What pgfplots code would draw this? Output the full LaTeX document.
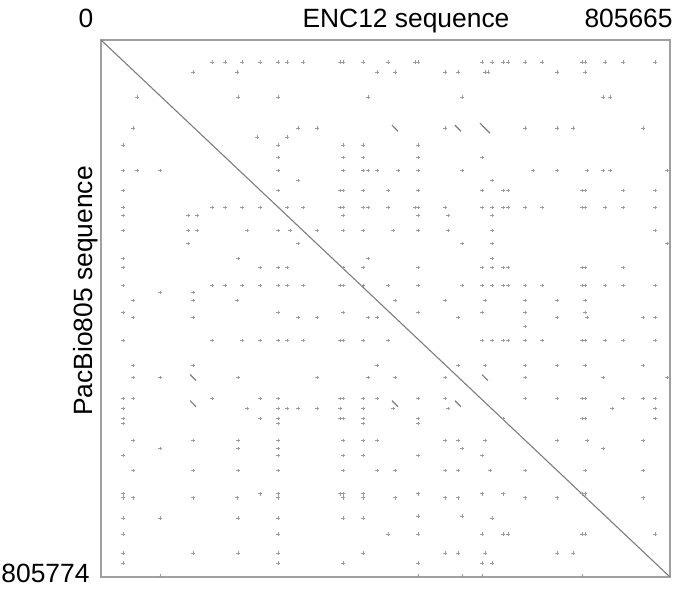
\documentclass[border=0pt]{standalone}
\usepackage{pgfplots}
\pgfplotsset{compat=1.18}
\usepackage{fontspec}
\setmainfont{Liberation Sans}
\definecolor{framegray}{RGB}{160,160,160}
\definecolor{diaggray}{RGB}{125,125,125}
\definecolor{dotgray}{RGB}{155,155,155}
\begin{document}
\begin{tikzpicture}
\path[use as bounding box] (-50.5pt,-7.5pt) rectangle (287pt,288.5pt);
\begin{axis}[
  at={(0,0)}, anchor=south west,
  scale only axis, width=284.5pt, height=268.5pt,
  xmin=0, xmax=805665, ymin=0, ymax=805774, y dir=reverse,
  axis line style={draw=framegray, line width=0.75pt},
  xtick=\empty, ytick=\empty,
]
% repeat hits
\addplot[only marks, mark=+, mark size=0.85pt, color=dotgray, mark options={line width=0.35pt}] coordinates {
(157200,33100) (175600,33100) (199600,33100) (225100,33100) (250600,33100) (263400,33100) (286000,33100) (338400,33100) (342600,33100) (371000,33100) (406400,33100) (444600,33100) (448800,33100) (539500,33100) (553600,33100) (569200,33100) (576300,33100) (600300,33100) (624400,33100) (681000,33100) (685300,33100) (713600,33100) (739100,33100) (784400,33100)
(130300,48100) (192600,48100) (390800,48100) (416300,48100) (487100,48100) (505500,48100) (543700,48100) (548000,48100) (645700,48100) (685300,48100)
(51000,85700) (194000,85700) (250600,85700) (378000,85700) (511100,85700) (710800,85700) (720700,85700)
(45300,132300) (278900,132300) (305800,132300) (487100,132300) (600300,132300) (645700,132300) (668300,132300) (767400,132300)
(220900,145800) (263400,145800)
(31200,157800) (250600,157800) (342600,157800) (371000,157800) (448800,157800)
(250600,175900) (342600,175900) (371000,175900) (448800,175900) (539500,175900)
(31200,195400) (51000,195400) (83500,195400) (250600,195400) (342600,195400) (371000,195400) (378000,195400) (390800,195400) (420500,195400) (448800,195400) (511100,195400) (611700,195400) (645700,195400) (688100,195400) (710800,195400) (720700,195400) (801400,195400)
(278900,210500) (553600,210500)
(31200,225500) (250600,225500) (338400,225500) (342600,225500) (371000,225500) (406400,225500) (448800,225500) (539500,225500) (569200,225500) (576300,225500) (681000,225500) (685300,225500) (739100,225500) (784400,225500)
(31200,251100) (157200,251100) (175600,251100) (199600,251100) (225100,251100) (263400,251100) (286000,251100) (338400,251100) (342600,251100) (371000,251100) (378000,251100) (406400,251100) (444600,251100) (448800,251100) (487100,251100) (539500,251100) (553600,251100) (569200,251100) (576300,251100) (600300,251100) (624400,251100) (681000,251100) (685300,251100) (713600,251100) (739100,251100) (784400,251100)
(31200,263100) (123200,263100) (135900,263100) (342600,263100) (448800,263100) (491300,263100) (553600,263100)
(31200,285600) (123200,285600) (135900,285600) (206700,285600) (250600,285600) (267600,285600) (305800,285600) (342600,285600) (371000,285600) (413400,285600) (448800,285600) (491300,285600) (553600,285600) (784400,285600)
(123200,305200) (278900,305200) (511100,305200) (553600,305200) (801400,305200)
(31200,327700) (194000,327700) (378000,327700) (553600,327700)
(31200,341200) (225100,341200) (250600,341200) (263400,341200) (342600,341200) (371000,341200) (448800,341200) (539500,341200) (553600,341200) (569200,341200) (576300,341200) (681000,341200) (685300,341200) (739100,341200)
(31200,368300) (157200,368300) (175600,368300) (199600,368300) (225100,368300) (250600,368300) (263400,368300) (286000,368300) (338400,368300) (342600,368300) (371000,368300) (406400,368300) (448800,368300) (511100,368300) (539500,368300) (553600,368300) (569200,368300) (576300,368300) (600300,368300) (624400,368300) (681000,368300) (685300,368300) (713600,368300) (739100,368300) (784400,368300)
(83500,378800) (130300,378800)
(45300,390900) (130300,390900) (192600,390900) (416300,390900) (487100,390900) (543700,390900) (600300,390900) (645700,390900) (685300,390900)
(31200,408900) (250600,408900) (342600,408900) (448800,408900) (539500,408900) (600300,408900) (685300,408900)
(45300,416400) (130300,416400) (278900,416400) (305800,416400) (378000,416400) (390800,416400) (505500,416400) (645700,416400) (688100,416400) (767400,416400) (784400,416400)
(600300,429900)
(31200,451000) (157200,451000) (199600,451000) (225100,451000) (250600,451000) (263400,451000) (286000,451000) (338400,451000) (342600,451000) (371000,451000) (406400,451000) (539500,451000) (553600,451000) (569200,451000) (576300,451000) (600300,451000) (624400,451000) (681000,451000) (685300,451000) (713600,451000) (739100,451000) (784400,451000)
(45300,488600) (130300,488600) (390800,488600) (505500,488600) (543700,488600) (600300,488600) (645700,488600) (685300,488600) (767400,488600)
(45300,506600) (83500,506600) (194000,506600) (305800,506600) (378000,506600) (416300,506600) (487100,506600) (600300,506600) (710800,506600) (801400,506600)
(31200,538200) (45300,538200) (157200,538200) (225100,538200) (250600,538200) (338400,538200) (342600,538200) (371000,538200) (390800,538200) (448800,538200) (487100,538200) (600300,538200) (645700,538200) (681000,538200) (685300,538200) (739100,538200) (767400,538200) (784400,538200)
(31200,553200) (206700,553200) (250600,553200) (263400,553200) (278900,553200) (305800,553200) (338400,553200) (371000,553200) (413400,553200) (491300,553200) (723500,553200) (784400,553200)
(31200,568200) (225100,568200) (250600,568200) (338400,568200) (342600,568200) (371000,568200) (448800,568200) (569200,568200) (681000,568200) (685300,568200) (784400,568200)
(31200,575800) (250600,575800) (371000,575800) (448800,575800)
(45300,601300) (130300,601300) (194000,601300) (250600,601300) (342600,601300) (371000,601300) (390800,601300) (487100,601300) (505500,601300) (543700,601300) (645700,601300) (688100,601300) (767400,601300)
(83500,613300) (194000,613300) (250600,613300) (511100,613300) (710800,613300)
(31200,623900) (250600,623900) (342600,623900) (371000,623900) (448800,623900) (539500,623900)
(45300,646400) (130300,646400) (194000,646400) (250600,646400) (342600,646400) (390800,646400) (416300,646400) (487100,646400) (505500,646400) (550800,646400) (600300,646400) (685300,646400) (767400,646400)
(31200,681000) (225100,681000) (250600,681000) (338400,681000) (342600,681000) (371000,681000) (448800,681000) (539500,681000) (569200,681000) (681000,681000) (685300,681000)
(31200,687000) (45300,687000) (130300,687000) (192600,687000) (250600,687000) (342600,687000) (371000,687000) (416300,687000) (487100,687000) (505500,687000) (600300,687000) (645700,687000) (767400,687000)
(448800,714100) (511100,714100)
(31200,717100) (83500,717100) (194000,717100) (250600,717100) (342600,717100) (371000,717100) (553600,717100)
(31200,741100) (250600,741100) (406400,741100) (448800,741100) (539500,741100) (569200,741100) (576300,741100) (681000,741100) (685300,741100) (784400,741100)
(31200,769700) (130300,769700) (194000,769700) (250600,769700) (371000,769700) (487100,769700) (505500,769700) (543700,769700) (645700,769700) (668300,769700)
(31200,784700) (250600,784700) (342600,784700) (448800,784700) (539500,784700) (553600,784700)
(83500,804300) (448800,804300) (511100,804300) (539500,804300) (681000,804300)
};
% short off-diagonal alignments
\addplot[color=diaggray, line width=0.6pt, unbounded coords=jump] coordinates {
(412050,127790) (420550,136810) (nan,nan)
(501250,127790) (509750,136810) (nan,nan)
(536700,124800) (550700,139800) (nan,nan)
(126050,502090) (134550,511110) (nan,nan)
(539450,502090) (547950,511110) (nan,nan)
(126050,541190) (134550,550210) (nan,nan)
(412050,541190) (420550,550210) (nan,nan)
(501250,541190) (509750,550210)
};
% main diagonal
\addplot[color=diaggray, line width=0.55pt] coordinates {(0,0) (805665,805774)};
\end{axis}
\begin{scope}[every node/.style={font=\fontsize{13.2}{15}\selectfont, text=black, inner sep=0pt}]
\node[anchor=base] at (-7.5pt,274.5pt) {0};
\node[anchor=base] at (152.5pt,274.5pt) {ENC12 sequence};
\node[anchor=base east] at (286pt,274.5pt) {805665};
\node[anchor=base west] at (-50pt,-3pt) {805774};
\node[anchor=base, rotate=90] at (-4pt,143pt) {PacBio805 sequence};
\end{scope}
\end{tikzpicture}
\end{document}
